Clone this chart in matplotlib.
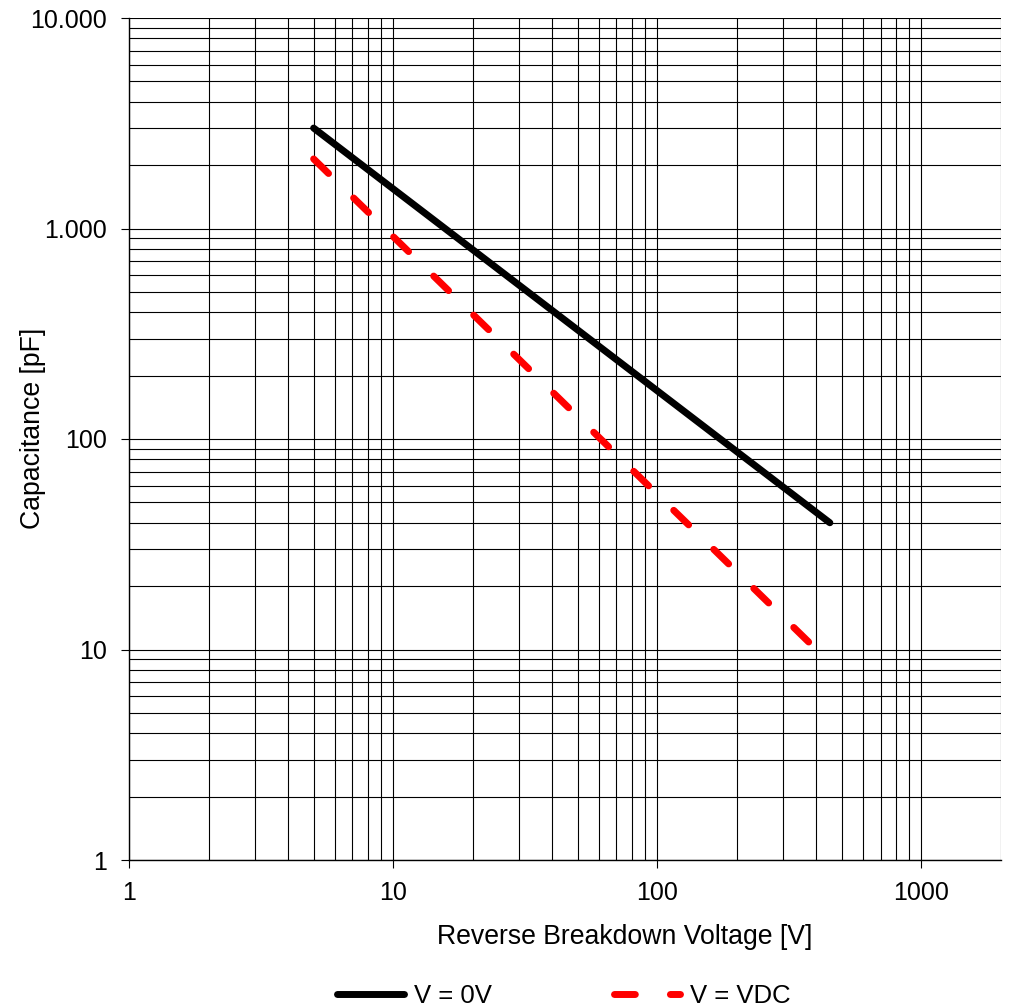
import matplotlib
matplotlib.use("Agg")
import matplotlib.pyplot as plt
from matplotlib.ticker import FixedLocator, LogLocator, FixedFormatter, NullFormatter

plt.rcParams['font.family'] = ['Liberation Sans', 'DejaVu Sans']

# data (straight lines on log-log axes)
v_zero_x = [5, 450]
v_zero_y = [3000, 40]
v_dc_x = [5, 400]
v_dc_y = [2140, 10]

x_ticks = [1, 10, 100, 1000]
x_labels = ["1", "10", "100", "1000"]
y_ticks = [1, 10, 100, 1000, 10000]
y_labels = ["1", "10", "100", "1.000", "10.000"]

W, H = 1014, 1006
fig = plt.figure(figsize=(W / 100, H / 100), dpi=100)
ax = fig.add_axes([129 / W, 1 - 860 / H, (1001 - 129) / W, (860 - 18) / H])

ax.set_xscale('log')
ax.set_yscale('log')
ax.set_xlim(1, 2000)
ax.set_ylim(1, 10000)

ax.plot(v_zero_x, v_zero_y, color='black', lw=5, solid_capstyle='round', label='V = 0V', zorder=3)
ax.plot(v_dc_x, v_dc_y, color='red', lw=5, dashes=(3.0, 5.05), dash_capstyle='round',
        label='V = VDC', zorder=3)

ax.xaxis.set_major_locator(FixedLocator(x_ticks))
ax.xaxis.set_major_formatter(FixedFormatter(x_labels))
ax.yaxis.set_major_locator(FixedLocator(y_ticks))
ax.yaxis.set_major_formatter(FixedFormatter(y_labels))
ax.xaxis.set_minor_locator(LogLocator(base=10, subs=range(2, 10), numticks=20))
ax.yaxis.set_minor_locator(LogLocator(base=10, subs=range(2, 10), numticks=20))
ax.xaxis.set_minor_formatter(NullFormatter())
ax.yaxis.set_minor_formatter(NullFormatter())

ax.grid(True, which='both', color='black', lw=0.8)
ax.tick_params(which='major', direction='out', length=6, width=0.8, labelsize=18)
ax.tick_params(axis='y', pad=10)
ax.tick_params(axis='x', pad=9)
ax.tick_params(which='minor', length=0)
for s in ['top', 'right']:
    ax.spines[s].set_visible(False)
for s in ['left', 'bottom']:
    ax.spines[s].set_linewidth(1.0)

ax.set_xlabel('Reverse Breakdown Voltage [V]', fontsize=19.2, va='center')
ax.set_ylabel('Capacitance [pF]', fontsize=19.2, va='center')
ax.xaxis.set_label_coords((625 - 129) / 872, (860 - 937) / 842)
ax.yaxis.set_label_coords((33 - 129) / 872, (860 - 428) / 842)

fig.legend(loc='center', bbox_to_anchor=(564 / W, 1 - 996 / H), ncol=2, frameon=False,
           fontsize=18.5, handlelength=2.6, handletextpad=0.38, columnspacing=4.75,
           borderpad=0, borderaxespad=0)

fig.savefig('out.png', dpi=100)
